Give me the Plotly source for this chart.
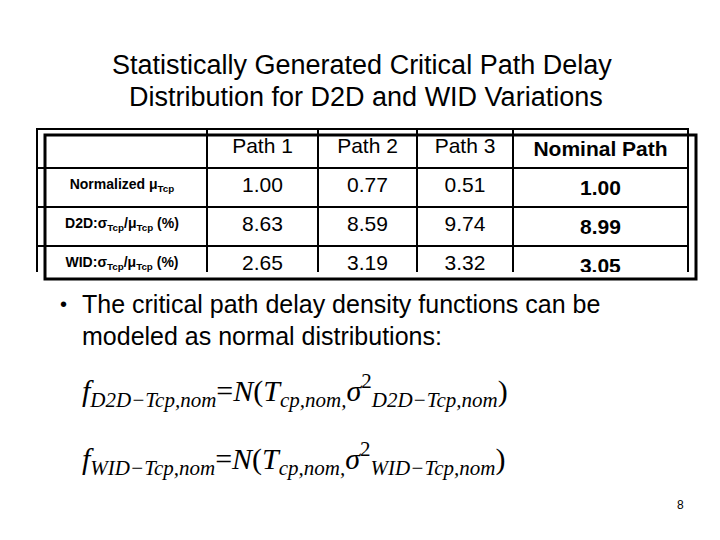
import plotly.graph_objects as go

header = ["", "Path 1", "Path 2", "Path 3", "<b>Nominal Path</b>"]
row_labels = ["<b>Normalized μ<sub>Tcp</sub></b>",
              "<b>D2D:σ<sub>Tcp</sub>/μ<sub>Tcp</sub> (%)</b>",
              "<b>WID:σ<sub>Tcp</sub>/μ<sub>Tcp</sub> (%)</b>"]
path1 = ["1.00", "8.63", "2.65"]
path2 = ["0.77", "8.59", "3.19"]
path3 = ["0.51", "9.74", "3.32"]
nominal = ["1.00", "8.99", "3.05"]

W, H = 720, 540
x0, x1, y0, y1 = 29, 680, 121, 264
fig = go.Figure(go.Table(
    domain=dict(x=[x0 / W, x1 / W], y=[1 - y1 / H, 1 - y0 / H]),
    columnwidth=[170, 111, 99, 96, 175],
    header=dict(values=header, height=36, align="center",
                fill_color="white", line=dict(color="black", width=2),
                font=dict(family="Liberation Sans", size=21, color="black")),
    cells=dict(values=[row_labels, path1, path2, path3, ["<b>%s</b>" % v for v in nominal]],
               height=35, align="center", fill_color="white",
               line=dict(color="black", width=2),
               font=dict(family="Liberation Sans", size=[14, 21, 21, 21, 21], color="black")),
))
fig.add_shape(type="rect", xref="paper", yref="paper", x0=37 / W, x1=688 / W,
              y0=1 - 271 / H, y1=1 - 127 / H, line=dict(color="black", width=3))

def ann(text, x, y, size, family="Liberation Sans", xanchor="left"):
    fig.add_annotation(text=text, x=x / W, y=1 - y / H, xref="paper", yref="paper",
                       showarrow=False, xanchor=xanchor, yanchor="middle",
                       font=dict(family=family, size=size, color="black"))

ann("Statistically Generated Critical Path Delay", 354, 57, 27, xanchor="center")
ann("Distribution for D2D and WID Variations", 358, 89, 27, xanchor="center")
ann("•", 50, 296, 20)
ann("The critical path delay density functions can be", 72, 296, 25)
ann("modeled as normal distributions:", 72, 328, 25)
ann("<i>f</i><sub><i>D2D−Tcp,nom</i></sub>=<i>N</i>(<i>T</i><sub><i>cp,nom,</i></sub><i>σ</i><sup>2</sup><sub><i>D2D−Tcp,nom</i></sub>)",
    72, 382, 30, family="Liberation Serif")
ann("<i>f</i><sub><i>WID−Tcp,nom</i></sub>=<i>N</i>(<i>T</i><sub><i>cp,nom,</i></sub><i>σ</i><sup>2</sup><sub><i>WID−Tcp,nom</i></sub>)",
    72, 450, 30, family="Liberation Serif")
ann("8", 672, 497, 12, xanchor="center")

fig.update_layout(width=W, height=H, margin=dict(l=0, r=0, t=0, b=0),
                  paper_bgcolor="white", plot_bgcolor="white")
fig.write_html("out.html")
